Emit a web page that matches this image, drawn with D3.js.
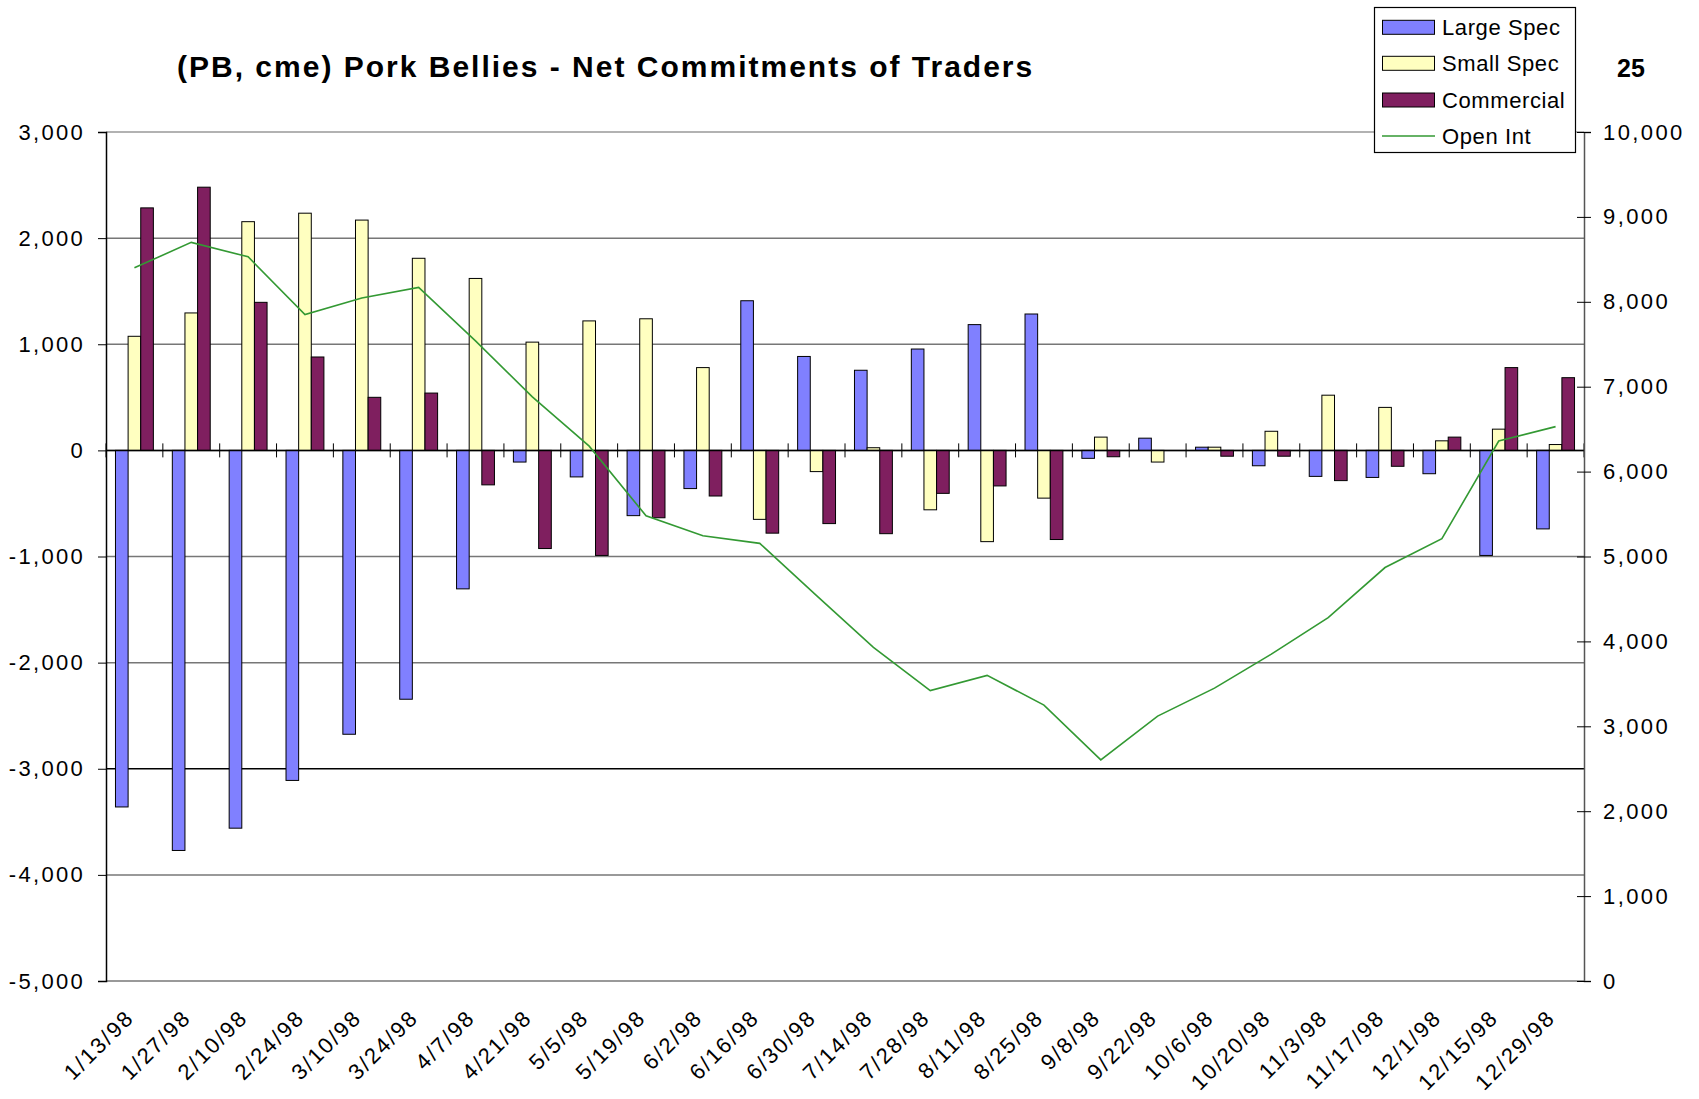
<!DOCTYPE html>
<html>
<head>
<meta charset="utf-8">
<script src="https://cdn.jsdelivr.net/npm/d3@7"></script>
<style>
  html, body { margin: 0; padding: 0; background: #fff; }
  svg { display: block; font-family: "Liberation Sans", Arial, sans-serif; }
</style>
</head>
<body>
<svg id="chart" width="1699" height="1099"></svg>
<script>
// ---- data ----
const dates = ["1/13/98","1/27/98","2/10/98","2/24/98","3/10/98","3/24/98","4/7/98","4/21/98","5/5/98","5/19/98","6/2/98","6/16/98","6/30/98","7/14/98","7/28/98","8/11/98","8/25/98","9/8/98","9/22/98","10/6/98","10/20/98","11/3/98","11/17/98","12/1/98","12/15/98","12/29/98"];
const largeSpec  = [-3360,-3770,-3560,-3110,-2675,-2345,-1305,-110,-250,-615,-360,1410,885,755,955,1185,1285,-75,115,30,-145,-245,-255,-220,-990,-740];
const smallSpec  = [1075,1295,2155,2235,2170,1810,1620,1020,1220,1240,780,-650,-200,25,-560,-860,-450,125,-110,30,180,520,405,90,200,55];
const commercial = [2285,2480,1395,880,500,540,-325,-925,-990,-635,-430,-780,-690,-785,-405,-335,-840,-60,0,-55,-55,-285,-150,125,780,685];
const openInt    = [8400,8700,8530,7850,8045,8170,7540,6880,6300,5480,5245,5155,4540,3930,3420,3600,3250,2605,3120,3450,3850,4280,4870,5210,6360,6530];
const leftTicks  = [-5000,-4000,-3000,-2000,-1000,0,1000,2000,3000];
const rightTicks = [0,1000,2000,3000,4000,5000,6000,7000,8000,9000,10000];
const seriesNames = ["Large Spec","Small Spec","Commercial"];
const seriesColors = ["#8080FF","#FFFFC0","#7F1F5F"];
const lineName = "Open Int";
const lineColor = "#339933";
const title = "(PB, cme) Pork Bellies - Net Commitments of Traders";
const pageNo = "25";

// ---- layout ----
const L = 106, R = 1584, T = 132, B = 981;
const svg = d3.select("#chart");
const fmtBase = d3.format(",");
const fmt = d => fmtBase(d).replace("\u2212", "-");

const x0 = d3.scaleBand().domain(dates).range([L, R]).paddingInner(0).paddingOuter(0);
const x1 = d3.scaleBand().domain(seriesNames).range([0, x0.bandwidth()]).paddingInner(0).paddingOuter(0.75);
const yL = d3.scaleLinear().domain([-5000, 3000]).range([B, T]);
const yR = d3.scaleLinear().domain([0, 10000]).range([B, T]);

const seriesData = [largeSpec, smallSpec, commercial];

// gridlines
svg.append("g").selectAll("line").data(leftTicks).join("line")
  .attr("x1", L).attr("x2", R)
  .attr("y1", d => yL(d)).attr("y2", d => yL(d))
  .attr("stroke", d => d === -3000 ? "#000" : (d === 3000 ? "#999" : "#777"))
  .attr("stroke-width", 1.5);

// bars
const gBars = svg.append("g");
seriesData.forEach((vals, si) => {
  gBars.append("g").selectAll("rect").data(vals).join("rect")
    .attr("x", (d, i) => x0(dates[i]) + x1(seriesNames[si]))
    .attr("width", x1.bandwidth())
    .attr("y", d => Math.min(yL(d), yL(0)))
    .attr("height", d => Math.abs(yL(d) - yL(0)))
    .attr("fill", seriesColors[si])
    .attr("stroke", "#000")
    .attr("stroke-width", d => d === 0 ? 0 : 1);
});

// category axis along zero
const zy = yL(0);
svg.append("line").attr("x1", L).attr("x2", R).attr("y1", zy).attr("y2", zy)
  .attr("stroke", "#000").attr("stroke-width", 1.5);
const bounds = dates.map(d => x0(d)).concat([R]);
svg.append("g").selectAll("line").data(bounds).join("line")
  .attr("x1", d => d).attr("x2", d => d)
  .attr("y1", zy - 7).attr("y2", zy + 7)
  .attr("stroke", "#000").attr("stroke-width", 1);

// left axis
const axL = d3.axisLeft(yL).tickValues(leftTicks).tickFormat(fmt).tickSize(8).tickPadding(13);
const gL = svg.append("g").attr("transform", `translate(${L},0)`).call(axL);
gL.select(".domain").attr("stroke", "#000").attr("stroke-width", 1.5);
gL.selectAll(".tick line").attr("stroke", "#000");
gL.selectAll("text").attr("font-size", 22).attr("letter-spacing", "2.3px")
  .attr("fill", "#000").attr("font-family", "Liberation Sans, Arial, sans-serif");

// right axis
const axR = d3.axisRight(yR).tickValues(rightTicks).tickFormat(fmt).tickSize(7).tickPadding(12);
const gR = svg.append("g").attr("transform", `translate(${R},0)`).call(axR);
gR.select(".domain").attr("stroke", "#555").attr("stroke-width", 1.5);
gR.selectAll(".tick line").attr("x1", -7).attr("stroke", "#000");
gR.selectAll("text").attr("font-size", 22).attr("letter-spacing", "2.4px")
  .attr("fill", "#000").attr("font-family", "Liberation Sans, Arial, sans-serif");

// x labels
svg.append("g").selectAll("text").data(dates).join("text")
  .attr("transform", d => `translate(${x0(d) + x0.bandwidth() / 2 + 1},1019) rotate(-45)`)
  .attr("text-anchor", "end")
  .attr("font-size", 22).attr("letter-spacing", "2.1px")
  .text(d => d);

// open interest line
const line = d3.line().x((d, i) => x0(dates[i]) + x0.bandwidth() / 2).y(d => yR(d));
svg.append("path").datum(openInt).attr("d", line)
  .attr("fill", "none").attr("stroke", lineColor).attr("stroke-width", 1.6);

// title
svg.append("text").attr("x", 177).attr("y", 77)
  .attr("font-size", 30).attr("font-weight", "bold").attr("letter-spacing", "2px")
  .text(title);
svg.append("text").attr("x", 1617).attr("y", 77)
  .attr("font-size", 25).attr("font-weight", "bold")
  .text(pageNo);

// legend
const lg = svg.append("g");
lg.append("rect").attr("x", 1374.5).attr("y", 7.5).attr("width", 201).attr("height", 145)
  .attr("fill", "#fff").attr("stroke", "#000").attr("stroke-width", 1.2);
const rows = [27.3, 63.3, 100, 136];
seriesNames.forEach((n, i) => {
  lg.append("rect").attr("x", 1382.5).attr("y", rows[i] - 7).attr("width", 52).attr("height", 14)
    .attr("fill", seriesColors[i]).attr("stroke", "#000").attr("stroke-width", 1);
  lg.append("text").attr("x", 1442).attr("y", rows[i]).attr("dy", "0.35em")
    .attr("font-size", 22).attr("letter-spacing", "0.6px").text(n);
});
lg.append("line").attr("x1", 1382).attr("x2", 1435).attr("y1", rows[3]).attr("y2", rows[3])
  .attr("stroke", lineColor).attr("stroke-width", 1.5);
lg.append("text").attr("x", 1442).attr("y", rows[3]).attr("dy", "0.35em")
  .attr("font-size", 22).attr("letter-spacing", "0.6px").text(lineName);
</script>
</body>
</html>
